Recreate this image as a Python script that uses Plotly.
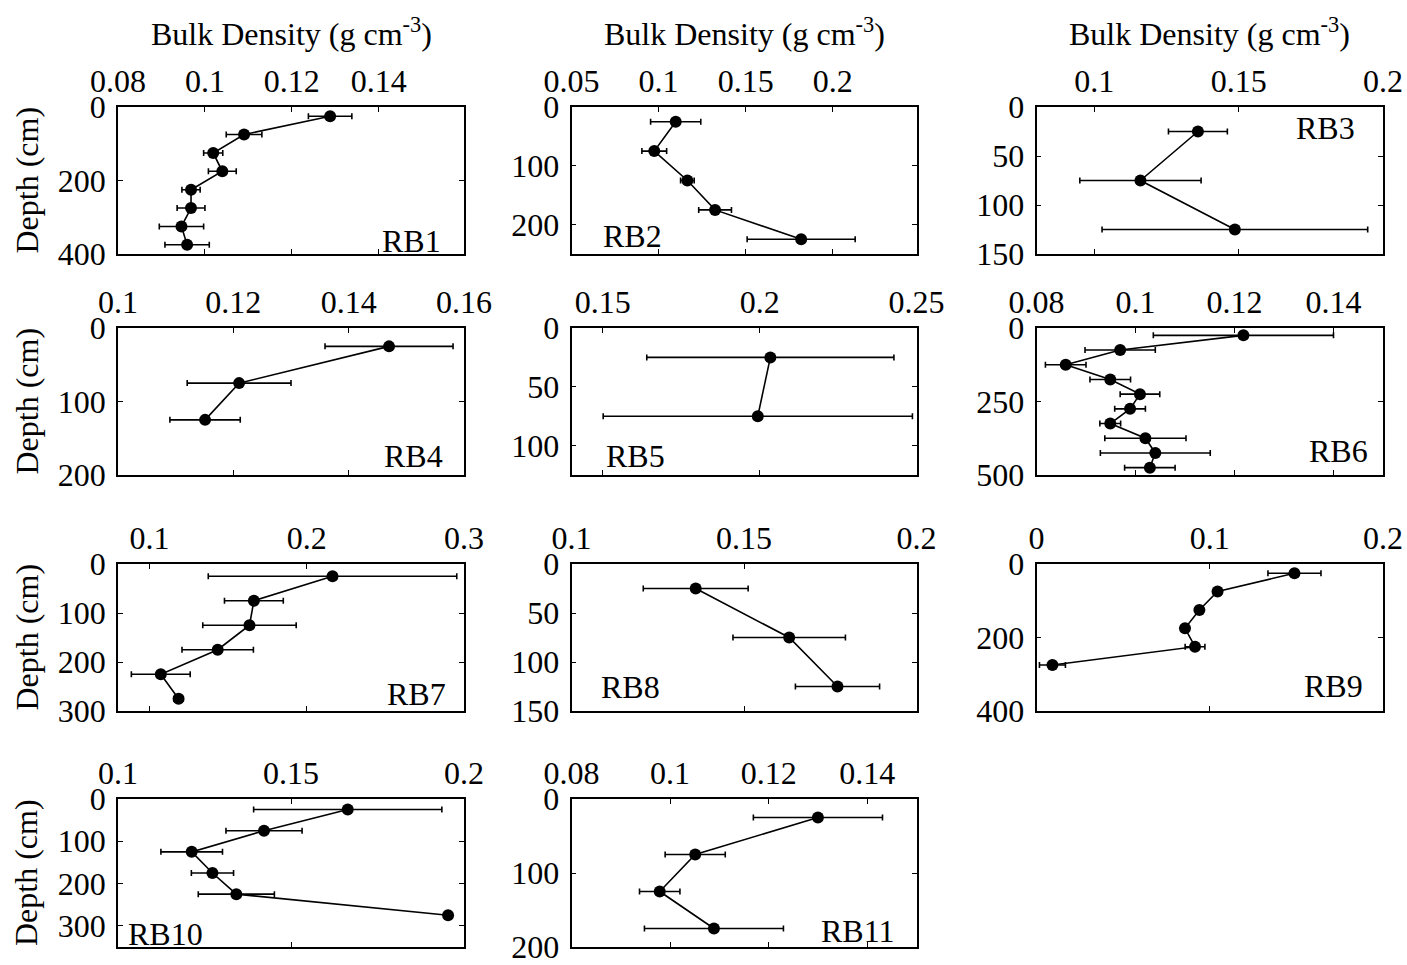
import plotly.graph_objects as go

# ---------------- data ----------------
panel_names = ["RB1", "RB2", "RB3", "RB4", "RB5", "RB6", "RB7", "RB8", "RB9", "RB10", "RB11"]

rb1_depth = [25, 75, 125, 175, 225, 275, 325, 375]
rb1_bd = [0.1288, 0.1090, 0.1019, 0.1040, 0.0968, 0.0968, 0.0946, 0.0959]
rb1_sd = [0.0050, 0.0041, 0.0022, 0.0032, 0.0021, 0.0032, 0.0051, 0.0051]

rb2_depth = [25, 75, 125, 175, 225]
rb2_bd = [0.1098, 0.0975, 0.1165, 0.1324, 0.1818]
rb2_sd = [0.0144, 0.0071, 0.0039, 0.0094, 0.0310]

rb3_depth = [25, 75, 125]
rb3_bd = [0.1359, 0.1160, 0.1487]
rb3_sd = [0.0102, 0.0210, 0.0460]

rb4_depth = [25, 75, 125]
rb4_bd = [0.1470, 0.1210, 0.1151]
rb4_sd = [0.0111, 0.0090, 0.0061]

rb5_depth = [25, 75]
rb5_bd = [0.2034, 0.1994]
rb5_sd = [0.0394, 0.0493]

rb6_depth = [25, 75, 125, 175, 225, 275, 325, 375, 425, 475]
rb6_bd = [0.1218, 0.0969, 0.0859, 0.0949, 0.1009, 0.0989, 0.0949, 0.1020, 0.1040, 0.1029]
rb6_sd = [0.0182, 0.0071, 0.0041, 0.0041, 0.0040, 0.0031, 0.0021, 0.0082, 0.0111, 0.0051]

rb7_depth = [25, 75, 125, 175, 225, 275]
rb7_bd = [0.2164, 0.1664, 0.1636, 0.1434, 0.1072, 0.1185]
rb7_sd = [0.0790, 0.0187, 0.0297, 0.0227, 0.0187, 0.0030]

rb8_depth = [25, 75, 125]
rb8_bd = [0.1360, 0.1631, 0.1771]
rb8_sd = [0.0152, 0.0163, 0.0122]

rb9_depth = [25, 75, 125, 175, 225, 275]
rb9_bd = [0.1489, 0.1045, 0.0940, 0.0857, 0.0915, 0.0092]
rb9_sd = [0.0153, 0.0010, 0.0010, 0.0010, 0.0057, 0.0075]

rb10_depth = [25, 75, 125, 175, 225, 275]
rb10_bd = [0.1664, 0.1422, 0.1213, 0.1273, 0.1342, 0.1954]
rb10_sd = [0.0272, 0.0110, 0.0089, 0.0061, 0.0110, 0.0]

rb11_depth = [25, 75, 125, 175]
rb11_bd = [0.1300, 0.1051, 0.0979, 0.1089]
rb11_sd = [0.0131, 0.0061, 0.0041, 0.0141]

# axis limits and tick values
x_limits = [[0.08, 0.1596], [0.05, 0.248], [0.08, 0.2], [0.1, 0.16], [0.14, 0.25], [0.08, 0.15],
            [0.08, 0.3], [0.1, 0.2], [0.0, 0.2], [0.1, 0.2], [0.08, 0.15]]
x_ticks = [[0.08, 0.1, 0.12, 0.14], [0.05, 0.1, 0.15, 0.2], [0.1, 0.15, 0.2], [0.1, 0.12, 0.14, 0.16],
           [0.15, 0.2, 0.25], [0.08, 0.1, 0.12, 0.14], [0.1, 0.2, 0.3], [0.1, 0.15, 0.2],
           [0, 0.1, 0.2], [0.1, 0.15, 0.2], [0.08, 0.1, 0.12, 0.14]]
y_limits = [400, 250, 150, 200, 125, 500, 300, 150, 400, 350, 200]
y_ticks = [[0, 200, 400], [0, 100, 200], [0, 50, 100, 150], [0, 100, 200], [0, 50, 100],
           [0, 250, 500], [0, 100, 200, 300], [0, 50, 100, 150], [0, 200, 400],
           [0, 100, 200, 300], [0, 100, 200]]

x_title = "Bulk Density (g cm<sup>-3</sup>)"
y_title = "Depth (cm)"

depths = [rb1_depth, rb2_depth, rb3_depth, rb4_depth, rb5_depth, rb6_depth,
          rb7_depth, rb8_depth, rb9_depth, rb10_depth, rb11_depth]
densities = [rb1_bd, rb2_bd, rb3_bd, rb4_bd, rb5_bd, rb6_bd,
             rb7_bd, rb8_bd, rb9_bd, rb10_bd, rb11_bd]
errors = [rb1_sd, rb2_sd, rb3_sd, rb4_sd, rb5_sd, rb6_sd,
          rb7_sd, rb8_sd, rb9_sd, rb10_sd, rb11_sd]

# ---------------- layout (page pixels) ----------------
W, H = 1407, 965
col_px = [(118, 464), (571.5, 916.5), (1036.5, 1383)]
row_px = [(107, 254), (328, 475), (564, 711), (799, 947)]
# label placement: (xanchor, x px, glyph-bottom px)
label_pos = [("right", 443, 252), ("left", 601, 247), ("right", 1357, 139),
             ("right", 445, 467), ("left", 604, 467), ("right", 1370, 462),
             ("right", 448, 705), ("left", 599, 698), ("right", 1365, 697),
             ("left", 126, 945), ("right", 897, 942)]

FONT = "Liberation Serif, Times New Roman, serif"
FS = 32

def px_x(v):
    return v / W

def px_y(v):
    return 1 - v / H

fig = go.Figure()
layout = dict(
    width=W, height=H, autosize=False,
    margin=dict(l=0, r=0, t=0, b=0, pad=0, autoexpand=False),
    paper_bgcolor="white", plot_bgcolor="white", showlegend=False,
    font=dict(family=FONT, size=FS, color="black"),
)
annotations = []

for i, name in enumerate(panel_names):
    r, c = divmod(i, 3)
    n = "" if i == 0 else str(i + 1)
    fig.add_trace(go.Scatter(
        x=densities[i], y=depths[i], mode="lines+markers",
        line=dict(color="black", width=1.6),
        marker=dict(color="black", size=12),
        error_x=dict(type="data", array=errors[i], color="black", thickness=1.6, width=3),
        xaxis="x" + n, yaxis="y" + n, cliponaxis=False,
    ))
    common = dict(showline=True, linecolor="black", linewidth=1.5, mirror="ticks",
                  ticks="inside", ticklen=5, tickwidth=1.2, tickcolor="black",
                  showgrid=False, zeroline=False, automargin=False,
                  ticklabeloverflow="allow",
                  tickfont=dict(family=FONT, size=FS))
    layout["xaxis" + n] = dict(
        common, anchor="y" + n, side="top",
        domain=[px_x(col_px[c][0]), px_x(col_px[c][1])],
        range=x_limits[i], tickmode="array", tickvals=x_ticks[i],
        ticktext=[f"{v:g}" for v in x_ticks[i]],
    )
    layout["yaxis" + n] = dict(
        common, anchor="x" + n,
        domain=[px_y(row_px[r][1]), px_y(row_px[r][0])],
        range=[y_limits[i], 0], tickmode="array", tickvals=y_ticks[i],
        ticktext=[f"{v:g}" for v in y_ticks[i]], ticklabelstandoff=4,
    )
    xa, xp, yb = label_pos[i]
    annotations.append(dict(
        text=name, xref="paper", yref="paper", x=px_x(xp), y=px_y(yb + 9),
        xanchor=xa, yanchor="bottom", showarrow=False,
        font=dict(family=FONT, size=FS, color="black"),
    ))

for c in range(3):
    annotations.append(dict(
        text=x_title, xref="paper", yref="paper",
        x=px_x((col_px[c][0] + col_px[c][1]) / 2), y=px_y(54),
        xanchor="center", yanchor="bottom", showarrow=False,
        font=dict(family=FONT, size=FS, color="black"),
    ))

for r in range(4):
    annotations.append(dict(
        text=y_title, xref="paper", yref="paper", textangle=-90,
        x=px_x(26), y=px_y((row_px[r][0] + row_px[r][1]) / 2),
        xanchor="center", yanchor="middle", showarrow=False,
        font=dict(family=FONT, size=FS, color="black"),
    ))

layout["annotations"] = annotations
fig.update_layout(**layout)
fig.write_html("out.html")
